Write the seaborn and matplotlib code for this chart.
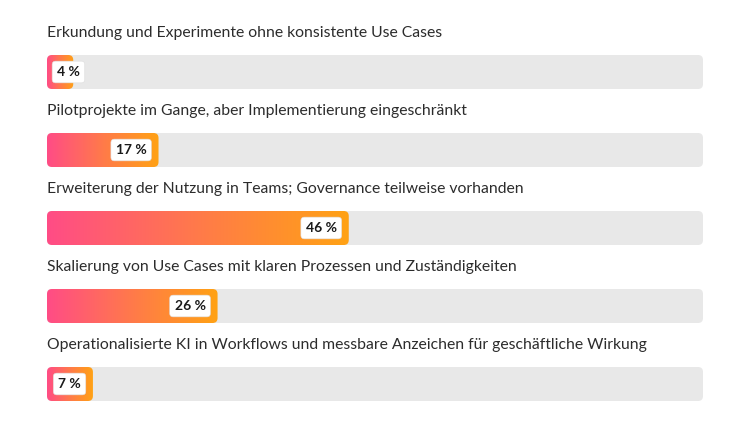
import numpy as np
import matplotlib
matplotlib.use("Agg")
import matplotlib.pyplot as plt
import seaborn as sns
from matplotlib.patches import FancyBboxPatch
from matplotlib.colors import LinearSegmentedColormap
import matplotlib.transforms as mtransforms

# Data
labels = [
    "Erkundung und Experimente ohne konsistente Use Cases",
    "Pilotprojekte im Gange, aber Implementierung eingeschränkt",
    "Erweiterung der Nutzung in Teams; Governance teilweise vorhanden",
    "Skalierung von Use Cases mit klaren Prozessen und Zuständigkeiten",
    "Operationalisierte KI in Workflows und messbare Anzeichen für geschäftliche Wirkung",
]
values = [4, 17, 46, 26, 7]
track = [100, 100, 100, 100, 100]

sns.set_theme(style="white")
plt.rcParams["font.family"] = ["Lato", "DejaVu Sans"]

W, H = 750, 422
fig = plt.figure(figsize=(W / 100, H / 100), dpi=100)
# axes spans track width; y in category units (78 px per row)
ax = fig.add_axes([47 / W, 0, 656 / W, 1])

bar_h = 34 / 78
sns.barplot(x=track, y=labels, color="#e8e8e8", width=bar_h, ax=ax, orient="h")
n_track = len(ax.patches)
sns.barplot(x=values, y=labels, color="#ff4f82", width=bar_h, ax=ax, orient="h")
track_patches = ax.patches[:n_track]
value_patches = ax.patches[n_track:]

ax.set_axis_off()

px_x = 100 / 656   # data units per px in x
px_y = 1 / 78      # data units per px in y
aspect = px_y / px_x
rad = 5 * px_x

grad = LinearSegmentedColormap.from_list("pinkorange", ["#ff4c86", "#ff7a4a", "#ffa214"])
gimg = np.linspace(0, 1, 256).reshape(1, -1)


def rounded(p, fc):
    x0, y0 = p.get_x(), p.get_y()
    w, h = p.get_width(), p.get_height()
    p.set_visible(False)
    rp = FancyBboxPatch((x0, y0), w, h,
                        boxstyle=f"round,pad=0,rounding_size={rad}",
                        mutation_aspect=aspect, fc=fc, ec="none", zorder=2)
    ax.add_patch(rp)
    return rp


for p in track_patches:
    rounded(p, "#e8e8e8")

for i, p in enumerate(value_patches):
    x0, y0 = p.get_x(), p.get_y()
    w, h = p.get_width(), p.get_height()
    rp = rounded(p, "none")
    im = ax.imshow(gimg, cmap=grad, aspect="auto", extent=(x0, x0 + w, y0 + h, y0),
                   interpolation="bicubic", zorder=3)
    im.set_clip_path(rp)

ax.set_xlim(0, 100)
ax.set_ylim((H - 72) / 78, -72 / 78)

# category labels above bars
for i, lab in enumerate(labels):
    ax.text(0, i - 0.5, lab, ha="left", va="center", fontsize=11.3,
            color="#2c2c2c", zorder=5)

# value badges
box = dict(boxstyle="round,pad=0.35,rounding_size=0.25", fc="white", ec="#dddddd", lw=0.4)
for i, v in enumerate(values):
    if v * 6.56 < 40:
        tr = mtransforms.offset_copy(ax.transData, fig=fig, x=10, y=0, units="dots")
        ax.text(0, i, f"{v} %", ha="left", va="center", fontsize=10, fontweight="bold",
                color="#1a1a1a", bbox=box, transform=tr, zorder=6)
    else:
        tr = mtransforms.offset_copy(ax.transData, fig=fig, x=-12, y=0, units="dots")
        ax.text(v, i, f"{v} %", ha="right", va="center", fontsize=10, fontweight="bold",
                color="#1a1a1a", bbox=box, transform=tr, zorder=6)

fig.savefig("out.png", dpi=100, facecolor="white")
